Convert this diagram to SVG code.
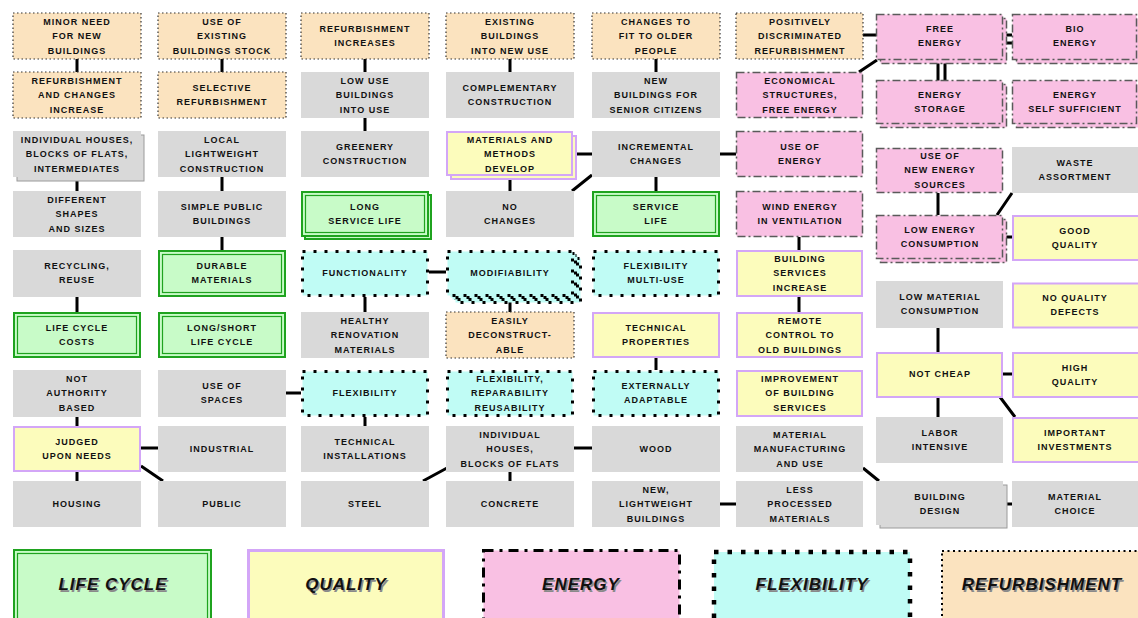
<svg xmlns="http://www.w3.org/2000/svg" width="1138" height="618" viewBox="0 0 1138 618">
<style>
.bg{fill:#ffffff}
.g{fill:#d9d9d9}
.gs{fill:#d9d9d9;stroke:#9a9a9a;stroke-width:1}
.r{fill:#fbe3bf;stroke:#333;stroke-width:1.2;stroke-dasharray:1.5 2.5}
.lo{fill:#c8fbc8;stroke:#1fa31f;stroke-width:2}
.li{fill:none;stroke:#1fa31f;stroke-width:1.2}
.q{fill:#fcfcbc;stroke:#d3a6f7;stroke-width:2}
.e{fill:#f9c0e3;stroke:#5a5a5a;stroke-width:1.5;stroke-dasharray:8 3 2 3}
.f{fill:#c0fcf5;stroke:#000;stroke-width:3;stroke-dasharray:3 8}
.t{font-family:"Liberation Sans",Arial,sans-serif;font-size:9px;font-weight:bold;letter-spacing:1px;fill:#111;text-anchor:middle}
.c{stroke:#000;stroke-width:3;fill:none}
.L{font-family:"Liberation Sans",Arial,sans-serif;font-size:17px;font-weight:bold;font-style:italic;letter-spacing:1px;text-anchor:middle}
.Ls{fill:#8a8a8a}
.Lt{fill:#111}
</style>
<rect class="bg" x="0" y="0" width="1138" height="618"/>

<g id="connectors">
<path class="c" d="M77 59V72M77 177V191M77 297V312M77 417V426M77 472V481M141 448H158M141 466L163 481"/>
<path class="c" d="M222 59V72M222 177V191M222 237V250M286 393H301"/>
<path class="c" d="M365 59V72M365 118V131M365 297V312M365 417V426M429 272H446M423 481L447 468"/>
<path class="c" d="M510 59V72M510 177V191M510 301V312M510 472V481M574 154H592M572 191L592 175M574 448H592"/>
<path class="c" d="M656 59V72M656 177V191M656 358V370M720 154H736M720 504H736"/>
<path class="c" d="M863 35H876M859 72L877 60M799 237V250M799 297V312M863 468L879 481"/>
<path class="c" d="M1003 35H1012M1003 43H1012M938 60V81M945 60V81M938 193V215M997 215L1012 193M1003 237H1012M938 328V352M1003 374H1012M938 397V417M1000 397L1015 417M1003 504H1012"/>
</g>

<!-- Column 1 -->
<g id="minor-need"><rect class="r" x="13" y="13" width="128" height="46"/><text class="t"><tspan x="77" y="24.8">MINOR NEED</tspan><tspan x="77" y="39.3">FOR NEW</tspan><tspan x="77" y="53.8">BUILDINGS</tspan></text></g>
<g id="refurb-changes"><rect class="r" x="13" y="72" width="128" height="46"/><text class="t"><tspan x="77" y="83.8">REFURBISHMENT</tspan><tspan x="77" y="98.3">AND CHANGES</tspan><tspan x="77" y="112.8">INCREASE</tspan></text></g>
<g id="individual-houses-1"><rect class="gs" x="17" y="135" width="127" height="46"/><rect class="g" x="13" y="131" width="128" height="46"/><text class="t"><tspan x="77" y="142.8">INDIVIDUAL HOUSES,</tspan><tspan x="77" y="157.3">BLOCKS OF FLATS,</tspan><tspan x="77" y="171.8">INTERMEDIATES</tspan></text></g>
<g id="different-shapes"><rect class="g" x="13" y="191" width="128" height="46"/><text class="t"><tspan x="77" y="202.8">DIFFERENT</tspan><tspan x="77" y="217.3">SHAPES</tspan><tspan x="77" y="231.8">AND SIZES</tspan></text></g>
<g id="recycling"><rect class="g" x="13" y="250" width="128" height="47"/><text class="t"><tspan x="77" y="269.3">RECYCLING,</tspan><tspan x="77" y="283.3">REUSE</tspan></text></g>
<g id="life-cycle-costs"><rect class="lo" x="14" y="313" width="126" height="44"/><rect class="li" x="17.5" y="316.5" width="119" height="37"/><text class="t"><tspan x="77" y="331.3">LIFE CYCLE</tspan><tspan x="77" y="345.3">COSTS</tspan></text></g>
<g id="not-authority"><rect class="g" x="13" y="370" width="128" height="47"/><text class="t"><tspan x="77" y="381.8">NOT</tspan><tspan x="77" y="396.3">AUTHORITY</tspan><tspan x="77" y="410.8">BASED</tspan></text></g>
<g id="judged"><rect class="q" x="14" y="427" width="126" height="44"/><text class="t"><tspan x="77" y="445.3">JUDGED</tspan><tspan x="77" y="459.3">UPON NEEDS</tspan></text></g>
<g id="housing"><rect class="g" x="13" y="481" width="128" height="46"/><text class="t"><tspan x="77" y="507.3">HOUSING</tspan></text></g>

<!-- Column 2 -->
<g id="use-existing"><rect class="r" x="158" y="13" width="128" height="46"/><text class="t"><tspan x="222" y="24.8">USE OF</tspan><tspan x="222" y="39.3">EXISTING</tspan><tspan x="222" y="53.8">BUILDINGS STOCK</tspan></text></g>
<g id="selective"><rect class="r" x="158" y="72" width="128" height="46"/><text class="t"><tspan x="222" y="91.3">SELECTIVE</tspan><tspan x="222" y="105.3">REFURBISHMENT</tspan></text></g>
<g id="local-lightweight"><rect class="g" x="158" y="131" width="128" height="46"/><text class="t"><tspan x="222" y="142.8">LOCAL</tspan><tspan x="222" y="157.3">LIGHTWEIGHT</tspan><tspan x="222" y="171.8">CONSTRUCTION</tspan></text></g>
<g id="simple-public"><rect class="g" x="158" y="191" width="128" height="46"/><text class="t"><tspan x="222" y="210.3">SIMPLE PUBLIC</tspan><tspan x="222" y="224.3">BUILDINGS</tspan></text></g>
<g id="durable"><rect class="lo" x="159" y="251" width="126" height="45"/><rect class="li" x="162.5" y="254.5" width="119" height="38"/><text class="t"><tspan x="222" y="269.3">DURABLE</tspan><tspan x="222" y="283.3">MATERIALS</tspan></text></g>
<g id="long-short"><rect class="lo" x="159" y="313" width="126" height="44"/><rect class="li" x="162.5" y="316.5" width="119" height="37"/><text class="t"><tspan x="222" y="331.3">LONG/SHORT</tspan><tspan x="222" y="345.3">LIFE CYCLE</tspan></text></g>
<g id="use-spaces"><rect class="g" x="158" y="370" width="128" height="47"/><text class="t"><tspan x="222" y="389.3">USE OF</tspan><tspan x="222" y="403.3">SPACES</tspan></text></g>
<g id="industrial"><rect class="g" x="158" y="426" width="128" height="46"/><text class="t"><tspan x="222" y="452.3">INDUSTRIAL</tspan></text></g>
<g id="public"><rect class="g" x="158" y="481" width="128" height="46"/><text class="t"><tspan x="222" y="507.3">PUBLIC</tspan></text></g>

<!-- Column 3 -->
<g id="refurb-increases"><rect class="r" x="301" y="13" width="128" height="46"/><text class="t"><tspan x="365" y="32.3">REFURBISHMENT</tspan><tspan x="365" y="46.3">INCREASES</tspan></text></g>
<g id="low-use"><rect class="g" x="301" y="72" width="128" height="46"/><text class="t"><tspan x="365" y="83.8">LOW USE</tspan><tspan x="365" y="98.3">BUILDINGS</tspan><tspan x="365" y="112.8">INTO USE</tspan></text></g>
<g id="greenery"><rect class="g" x="301" y="131" width="128" height="46"/><text class="t"><tspan x="365" y="150.3">GREENERY</tspan><tspan x="365" y="164.3">CONSTRUCTION</tspan></text></g>
<g id="long-service"><rect class="lo" x="305" y="195" width="126" height="44"/><rect class="li" x="308.5" y="198.5" width="119" height="37"/><rect class="lo" x="302" y="192" width="126" height="44"/><rect class="li" x="305.5" y="195.5" width="119" height="37"/><text class="t"><tspan x="365" y="210.3">LONG</tspan><tspan x="365" y="224.3">SERVICE LIFE</tspan></text></g>
<g id="functionality"><rect class="f" x="302.5" y="251.5" width="125" height="44"/><text class="t"><tspan x="365" y="276.3">FUNCTIONALITY</tspan></text></g>
<g id="healthy"><rect class="g" x="301" y="312" width="128" height="46"/><text class="t"><tspan x="365" y="323.8">HEALTHY</tspan><tspan x="365" y="338.3">RENOVATION</tspan><tspan x="365" y="352.8">MATERIALS</tspan></text></g>
<g id="flexibility"><rect class="f" x="302.5" y="371.5" width="125" height="44"/><text class="t"><tspan x="365" y="396.3">FLEXIBILITY</tspan></text></g>
<g id="technical-installations"><rect class="g" x="301" y="426" width="128" height="46"/><text class="t"><tspan x="365" y="445.3">TECHNICAL</tspan><tspan x="365" y="459.3">INSTALLATIONS</tspan></text></g>
<g id="steel"><rect class="g" x="301" y="481" width="128" height="46"/><text class="t"><tspan x="365" y="507.3">STEEL</tspan></text></g>

<!-- Column 4 -->
<g id="existing-new-use"><rect class="r" x="446" y="13" width="128" height="46"/><text class="t"><tspan x="510" y="24.8">EXISTING</tspan><tspan x="510" y="39.3">BUILDINGS</tspan><tspan x="510" y="53.8">INTO NEW USE</tspan></text></g>
<g id="complementary"><rect class="g" x="446" y="72" width="128" height="46"/><text class="t"><tspan x="510" y="91.3">COMPLEMENTARY</tspan><tspan x="510" y="105.3">CONSTRUCTION</tspan></text></g>
<g id="materials-methods"><rect class="q" x="451" y="136" width="125" height="43"/><rect class="q" x="447" y="132" width="125" height="43"/><text class="t"><tspan x="510" y="142.8">MATERIALS AND</tspan><tspan x="510" y="157.3">METHODS</tspan><tspan x="510" y="171.8">DEVELOP</tspan></text></g>
<g id="no-changes"><rect class="g" x="446" y="191" width="128" height="46"/><text class="t"><tspan x="510" y="210.3">NO</tspan><tspan x="510" y="224.3">CHANGES</tspan></text></g>
<g id="modifiability"><rect class="f" x="455.5" y="258.5" width="125" height="44"/><rect class="f" x="452.5" y="255.5" width="125" height="44"/><rect class="f" x="450.5" y="253.5" width="125" height="44"/><rect class="f" x="447.5" y="251.5" width="125" height="44"/><text class="t"><tspan x="510" y="276.3">MODIFIABILITY</tspan></text></g>
<g id="easily-deconstructable"><rect class="r" x="446" y="312" width="128" height="46"/><text class="t"><tspan x="510" y="323.8">EASILY</tspan><tspan x="510" y="338.3">DECONSTRUCT-</tspan><tspan x="510" y="352.8">ABLE</tspan></text></g>
<g id="flex-reparability"><rect class="f" x="447.5" y="371.5" width="125" height="44"/><text class="t"><tspan x="510" y="381.8">FLEXIBILITY,</tspan><tspan x="510" y="396.3">REPARABILITY</tspan><tspan x="510" y="410.8">REUSABILITY</tspan></text></g>
<g id="individual-houses-2"><rect class="g" x="446" y="426" width="128" height="46"/><text class="t"><tspan x="510" y="437.8">INDIVIDUAL</tspan><tspan x="510" y="452.3">HOUSES,</tspan><tspan x="510" y="466.8">BLOCKS OF FLATS</tspan></text></g>
<g id="concrete"><rect class="g" x="446" y="481" width="128" height="46"/><text class="t"><tspan x="510" y="507.3">CONCRETE</tspan></text></g>

<!-- Column 5 -->
<g id="changes-older"><rect class="r" x="592" y="13" width="128" height="46"/><text class="t"><tspan x="656" y="24.8">CHANGES TO</tspan><tspan x="656" y="39.3">FIT TO OLDER</tspan><tspan x="656" y="53.8">PEOPLE</tspan></text></g>
<g id="senior"><rect class="g" x="592" y="72" width="128" height="46"/><text class="t"><tspan x="656" y="83.8">NEW</tspan><tspan x="656" y="98.3">BUILDINGS FOR</tspan><tspan x="656" y="112.8">SENIOR CITIZENS</tspan></text></g>
<g id="incremental"><rect class="g" x="592" y="131" width="128" height="46"/><text class="t"><tspan x="656" y="150.3">INCREMENTAL</tspan><tspan x="656" y="164.3">CHANGES</tspan></text></g>
<g id="service-life"><rect class="lo" x="593" y="192" width="126" height="44"/><rect class="li" x="596.5" y="195.5" width="119" height="37"/><text class="t"><tspan x="656" y="210.3">SERVICE</tspan><tspan x="656" y="224.3">LIFE</tspan></text></g>
<g id="flex-multi"><rect class="f" x="593.5" y="251.5" width="125" height="44"/><text class="t"><tspan x="656" y="269.3">FLEXIBILITY</tspan><tspan x="656" y="283.3">MULTI-USE</tspan></text></g>
<g id="technical-properties"><rect class="q" x="593" y="313" width="126" height="44"/><text class="t"><tspan x="656" y="331.3">TECHNICAL</tspan><tspan x="656" y="345.3">PROPERTIES</tspan></text></g>
<g id="externally"><rect class="f" x="593.5" y="371.5" width="125" height="44"/><text class="t"><tspan x="656" y="389.3">EXTERNALLY</tspan><tspan x="656" y="403.3">ADAPTABLE</tspan></text></g>
<g id="wood"><rect class="g" x="592" y="426" width="128" height="46"/><text class="t"><tspan x="656" y="452.3">WOOD</tspan></text></g>
<g id="new-lightweight"><rect class="g" x="592" y="481" width="128" height="46"/><text class="t"><tspan x="656" y="492.8">NEW,</tspan><tspan x="656" y="507.3">LIGHTWEIGHT</tspan><tspan x="656" y="521.8">BUILDINGS</tspan></text></g>

<!-- Column 6 -->
<g id="positively"><rect class="r" x="736" y="13" width="127" height="46"/><text class="t"><tspan x="800" y="24.8">POSITIVELY</tspan><tspan x="800" y="39.3">DISCRIMINATED</tspan><tspan x="800" y="53.8">REFURBISHMENT</tspan></text></g>
<g id="economical"><rect class="e" x="736.5" y="72.5" width="126" height="45"/><text class="t"><tspan x="800" y="83.8">ECONOMICAL</tspan><tspan x="800" y="98.3">STRUCTURES,</tspan><tspan x="800" y="112.8">FREE ENERGY</tspan></text></g>
<g id="use-energy"><rect class="e" x="736.5" y="131.5" width="126" height="45"/><text class="t"><tspan x="800" y="150.3">USE OF</tspan><tspan x="800" y="164.3">ENERGY</tspan></text></g>
<g id="wind-energy"><rect class="e" x="736.5" y="191.5" width="126" height="45"/><text class="t"><tspan x="800" y="210.3">WIND ENERGY</tspan><tspan x="800" y="224.3">IN VENTILATION</tspan></text></g>
<g id="building-services"><rect class="q" x="737" y="251" width="125" height="45"/><text class="t"><tspan x="800" y="261.8">BUILDING</tspan><tspan x="800" y="276.3">SERVICES</tspan><tspan x="800" y="290.8">INCREASE</tspan></text></g>
<g id="remote-control"><rect class="q" x="737" y="313" width="125" height="44"/><text class="t"><tspan x="800" y="323.8">REMOTE</tspan><tspan x="800" y="338.3">CONTROL TO</tspan><tspan x="800" y="352.8">OLD BUILDINGS</tspan></text></g>
<g id="improvement"><rect class="q" x="737" y="371" width="125" height="45"/><text class="t"><tspan x="800" y="381.8">IMPROVEMENT</tspan><tspan x="800" y="396.3">OF BUILDING</tspan><tspan x="800" y="410.8">SERVICES</tspan></text></g>
<g id="material-manufacturing"><rect class="g" x="736" y="426" width="127" height="46"/><text class="t"><tspan x="800" y="437.8">MATERIAL</tspan><tspan x="800" y="452.3">MANUFACTURING</tspan><tspan x="800" y="466.8">AND USE</tspan></text></g>
<g id="less-processed"><rect class="g" x="736" y="481" width="127" height="46"/><text class="t"><tspan x="800" y="492.8">LESS</tspan><tspan x="800" y="507.3">PROCESSED</tspan><tspan x="800" y="521.8">MATERIALS</tspan></text></g>

<!-- Column 7 -->
<g id="free-energy"><rect class="e" x="880.5" y="18.5" width="126" height="45"/><rect class="e" x="876.5" y="14.5" width="126" height="45"/><text class="t"><tspan x="940" y="32.3">FREE</tspan><tspan x="940" y="46.3">ENERGY</tspan></text></g>
<g id="energy-storage"><rect class="e" x="880.5" y="84.5" width="126" height="43"/><rect class="e" x="876.5" y="80.5" width="126" height="43"/><text class="t"><tspan x="940" y="98.3">ENERGY</tspan><tspan x="940" y="112.3">STORAGE</tspan></text></g>
<g id="new-energy-sources"><rect class="e" x="876.5" y="148.5" width="126" height="44"/><text class="t"><tspan x="940" y="158.8">USE OF</tspan><tspan x="940" y="173.3">NEW ENERGY</tspan><tspan x="940" y="187.8">SOURCES</tspan></text></g>
<g id="low-energy"><rect class="e" x="880.5" y="219.5" width="126" height="43"/><rect class="e" x="876.5" y="215.5" width="126" height="43"/><text class="t"><tspan x="940" y="233.3">LOW ENERGY</tspan><tspan x="940" y="247.3">CONSUMPTION</tspan></text></g>
<g id="low-material"><rect class="g" x="876" y="281" width="127" height="47"/><text class="t"><tspan x="940" y="300.3">LOW MATERIAL</tspan><tspan x="940" y="314.3">CONSUMPTION</tspan></text></g>
<g id="not-cheap"><rect class="q" x="877" y="353" width="125" height="44"/><text class="t"><tspan x="940" y="377.3">NOT CHEAP</tspan></text></g>
<g id="labor-intensive"><rect class="g" x="876" y="417" width="127" height="46"/><text class="t"><tspan x="940" y="436.3">LABOR</tspan><tspan x="940" y="450.3">INTENSIVE</tspan></text></g>
<g id="building-design"><rect class="gs" x="880" y="485" width="127" height="43"/><rect class="g" x="876" y="481" width="127" height="44"/><text class="t"><tspan x="940" y="500.3">BUILDING</tspan><tspan x="940" y="514.3">DESIGN</tspan></text></g>

<!-- Column 8 -->
<g id="bio-energy"><rect class="e" x="1016.5" y="18.5" width="126" height="45"/><rect class="e" x="1012.5" y="14.5" width="124" height="45"/><text class="t"><tspan x="1075" y="32.3">BIO</tspan><tspan x="1075" y="46.3">ENERGY</tspan></text></g>
<g id="self-sufficient"><rect class="e" x="1016.5" y="84.5" width="126" height="43"/><rect class="e" x="1012.5" y="80.5" width="124" height="43"/><text class="t"><tspan x="1075" y="98.3">ENERGY</tspan><tspan x="1075" y="112.3">SELF SUFFICIENT</tspan></text></g>
<g id="waste"><rect class="g" x="1012" y="147" width="126" height="46"/><text class="t"><tspan x="1075" y="166.3">WASTE</tspan><tspan x="1075" y="180.3">ASSORTMENT</tspan></text></g>
<g id="good-quality"><rect class="q" x="1013" y="216" width="126" height="44"/><text class="t"><tspan x="1075" y="234.3">GOOD</tspan><tspan x="1075" y="248.3">QUALITY</tspan></text></g>
<g id="no-quality-defects"><rect class="q" x="1013" y="283.5" width="126" height="44"/><text class="t"><tspan x="1075" y="301.3">NO QUALITY</tspan><tspan x="1075" y="315.3">DEFECTS</tspan></text></g>
<g id="high-quality"><rect class="q" x="1013" y="353" width="126" height="44"/><text class="t"><tspan x="1075" y="371.3">HIGH</tspan><tspan x="1075" y="385.3">QUALITY</tspan></text></g>
<g id="important-investments"><rect class="q" x="1013" y="418" width="126" height="44"/><text class="t"><tspan x="1075" y="436.3">IMPORTANT</tspan><tspan x="1075" y="450.3">INVESTMENTS</tspan></text></g>
<g id="material-choice"><rect class="g" x="1012" y="481" width="126" height="46"/><text class="t"><tspan x="1075" y="500.3">MATERIAL</tspan><tspan x="1075" y="514.3">CHOICE</tspan></text></g>

<!-- Legend -->
<g id="legend-life-cycle"><rect x="14" y="550" width="197" height="80" fill="#c8fbc8" stroke="#1fa31f" stroke-width="2"/><rect x="17.5" y="553.5" width="190" height="73" fill="none" stroke="#1fa31f" stroke-width="1.2"/><text class="L Ls" x="114.5" y="591.5">LIFE CYCLE</text><text class="L Lt" x="113" y="590">LIFE CYCLE</text></g>
<g id="legend-quality"><rect x="248.5" y="550.5" width="195" height="80" fill="#fcfcbc" stroke="#d3a6f7" stroke-width="3"/><text class="L Ls" x="347.5" y="591.5">QUALITY</text><text class="L Lt" x="346" y="590">QUALITY</text></g>
<g id="legend-energy"><rect x="483.5" y="550.5" width="196" height="80" fill="#f9c0e3" stroke="#000" stroke-width="3" stroke-dasharray="10 6 3 6"/><text class="L Ls" x="582.5" y="591.5">ENERGY</text><text class="L Lt" x="581" y="590">ENERGY</text></g>
<g id="legend-flexibility"><rect x="714" y="552" width="196" height="80" fill="#c0fcf5" stroke="#000" stroke-width="4.5" stroke-dasharray="4.5 9"/><text class="L Ls" x="813.5" y="591.5">FLEXIBILITY</text><text class="L Lt" x="812" y="590">FLEXIBILITY</text></g>
<g id="legend-refurbishment"><rect x="942" y="551" width="200" height="80" fill="#fbe3bf" stroke="#000" stroke-width="2" stroke-dasharray="2 3.5"/><text class="L Ls" x="1043.5" y="591.5">REFURBISHMENT</text><text class="L Lt" x="1042" y="590">REFURBISHMENT</text></g>
</svg>
